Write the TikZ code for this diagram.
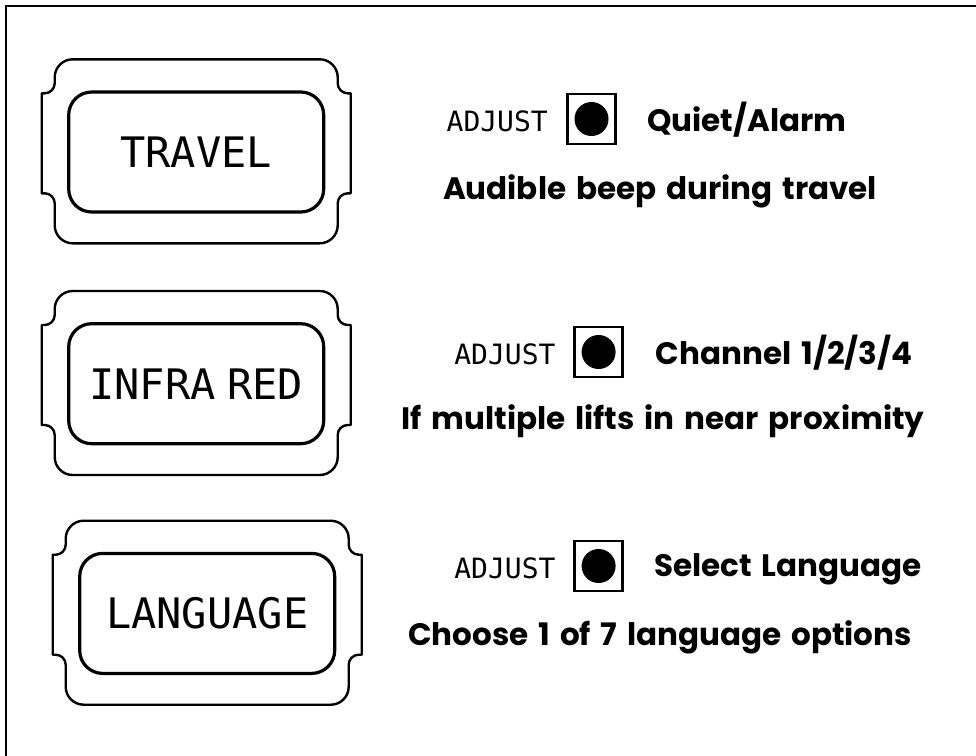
\documentclass[tikz,border=0pt]{standalone}
\usepackage{fontspec}
\setmainfont{Poppins}[WordSpace=1.5]
\newfontfamily\lcd{DejaVu Sans Mono}
\begin{document}
\begin{tikzpicture}[x=1pt,y=-1pt,
  outerframe/.pic={
    \draw[line width=2.4pt, line join=round]
      (31,0) -- (278,0) .. controls (287.9,0) and (296,8.1) .. (296,18) -- (296,24)
      .. controls (296,29.5) and (300.5,34) .. (306,34) -- (309,34) -- (309,134) -- (306,134)
      .. controls (300.5,134) and (296,138.5) .. (296,144) -- (296,166)
      .. controls (296,176) and (287.9,184) .. (278,184) -- (31,184)
      .. controls (21.1,184) and (13,176) .. (13,166) -- (13,144)
      .. controls (13,138.5) and (8.5,134) .. (3,134) -- (0,134) -- (0,34) -- (3,34)
      .. controls (8.5,34) and (13,29.5) .. (13,24) -- (13,18)
      .. controls (13,8.1) and (21.1,0) .. (31,0) -- cycle;
  },
  display/.style={draw, line width=3.2pt, rounded corners=23pt, minimum width=255pt,
    minimum height=120pt, inner sep=0pt, font=\lcd\fontsize{42}{50}\selectfont},
  adjlabel/.style={anchor=base east, inner sep=0pt, font=\lcd\fontsize{28}{34}\selectfont},
  button/.style={draw, line width=2.6pt, minimum width=48pt, minimum height=50pt, inner sep=0pt},
  dot/.style={fill=black, circle, minimum size=34pt, inner sep=0pt},
  title/.style={anchor=base west, inner sep=0pt, font=\bfseries\fontsize{31}{38}\selectfont},
  desc/.style={anchor=base, inner sep=0pt, font=\bfseries\fontsize{31}{38}\selectfont}
]
\useasboundingbox (0,0) rectangle (976,755);
\fill[white] (0,0) rectangle (976,755);
% page border (top and left)
\coordinate (bl) at (5.7,760);
\coordinate (tl) at (5.7,5.7);
\coordinate (tr) at (980,5.7);
\draw[line width=2pt] (bl) -- (tl) -- (tr);

% panel 1
\pic at (41.7,59.3) {outerframe};
\node[display] (d1) at (196.2,152) {TRAVEL};
\node[button] (b1) at (591.5,119) {};
\node[dot] (c1) at (b1.center) {};
\node[adjlabel] (a1) at (548,131.7) {ADJUST};
\node[title] (t1) at (647,131) {Quiet/Alarm};
\node[desc] (s1) at (660,199) {Audible beep during travel};

% panel 2
\pic at (41.7,291) {outerframe};
\node[display] (d2) at (196.2,383.7) {INFRA\hspace{-14pt} RED};
\node[button] (b2) at (598.6,352) {};
\node[dot] (c2) at (b2.center) {};
\node[adjlabel] (a2) at (555.7,364.6) {ADJUST};
\node[title] (t2) at (655.7,364.6) {Channel 1/2/3/4};
\node[desc] (s2) at (663,429) {If multiple lifts in near proximity};

% panel 3
\pic at (52.7,520.7) {outerframe};
\node[display] (d3) at (207.2,613.4) {LANGUAGE};
\node[button] (b3) at (598.6,566) {};
\node[dot] (c3) at (b3.center) {};
\node[adjlabel] (a3) at (555.7,578) {ADJUST};
\node[title] (t3) at (654,576.4) {Select Language};
\node[desc] (s3) at (660,645) {Choose 1 of 7 language options};
\end{tikzpicture}
\end{document}
